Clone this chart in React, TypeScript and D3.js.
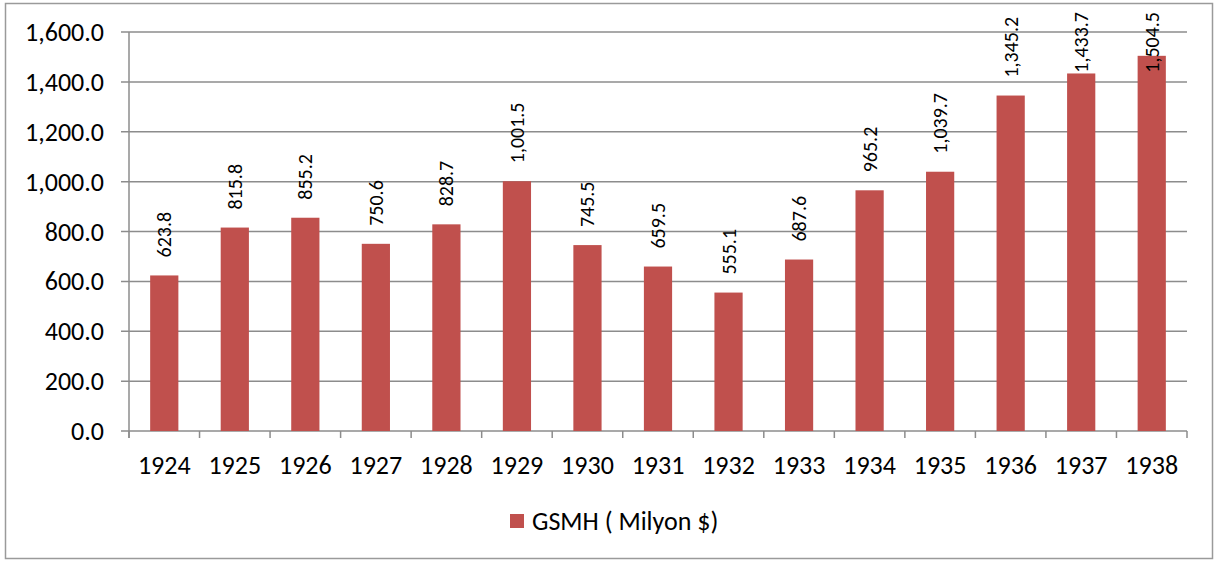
import React, { useEffect, useRef } from "react";
import * as d3 from "d3";

const years = ["1924","1925","1926","1927","1928","1929","1930","1931","1932","1933","1934","1935","1936","1937","1938"];
const gsmh = [623.8, 815.8, 855.2, 750.6, 828.7, 1001.5, 745.5, 659.5, 555.1, 687.6, 965.2, 1039.7, 1345.2, 1433.7, 1504.5];
const yTicks = [0, 200, 400, 600, 800, 1000, 1200, 1400, 1600];
const seriesName = "GSMH ( Milyon $)";

const W = 1216, H = 561;
const FONT = "Calibri, Carlito, Lato, 'Noto Sans', sans-serif";
const GRID = "#8c8c8c";
const BAR = "#C0504D";

export default function App() {
  const ref = useRef<SVGSVGElement | null>(null);
  useEffect(() => {
    document.body.style.margin = "0";
    const svg = d3.select(ref.current);
    svg.selectAll("*").remove();
    const left = 129, right = 1187, top = 32, bottom = 431;
    const x = d3.scaleBand<string>().domain(years).range([left, right]).paddingInner(0.6).paddingOuter(0.3);
    const xb = d3.scaleBand<string>().domain(years).range([left, right]);
    const y = d3.scaleLinear().domain([0, 1600]).range([bottom, top]);
    const fmt = d3.format(",.1f");

    svg.append("rect").attr("width", W).attr("height", H).attr("fill", "#fff");
    svg.append("rect").attr("x", 5.5).attr("y", 3.5).attr("width", 1207).attr("height", 555)
      .attr("fill", "none").attr("stroke", "#9a9a9a").attr("stroke-width", 1.5);

    // gridlines
    svg.append("g").selectAll("line").data(yTicks).join("line")
      .attr("x1", left - 8).attr("x2", right)
      .attr("y1", d => y(d)).attr("y2", d => y(d))
      .attr("stroke", GRID).attr("stroke-width", 1.5);
    // y labels
    svg.append("g").selectAll("text").data(yTicks).join("text")
      .attr("x", 104).attr("y", d => y(d)).attr("dy", "0.35em")
      .attr("text-anchor", "end").attr("font-family", FONT).attr("font-size", 26).attr("fill", "#000")
      .text(d => fmt(d));
    // y axis line
    svg.append("line").attr("x1", left).attr("x2", left).attr("y1", top).attr("y2", bottom + 7)
      .attr("stroke", GRID).attr("stroke-width", 1.5);
    // x ticks
    const bounds = years.map(yr => xb(yr)!).concat([right]);
    svg.append("g").selectAll("line").data(bounds).join("line")
      .attr("x1", d => d).attr("x2", d => d).attr("y1", bottom).attr("y2", bottom + 7)
      .attr("stroke", GRID).attr("stroke-width", 1.5);

    // bars
    svg.append("g").selectAll("rect").data(gsmh).join("rect")
      .attr("x", (d, i) => x(years[i])!).attr("width", x.bandwidth())
      .attr("y", d => y(d)).attr("height", d => bottom - y(d))
      .attr("fill", BAR);

    // x labels
    svg.append("g").selectAll("text").data(years).join("text")
      .attr("x", d => xb(d)! + xb.bandwidth() / 2).attr("y", 474)
      .attr("text-anchor", "middle").attr("font-family", FONT).attr("font-size", 26).attr("fill", "#000")
      .text(d => d);

    // value labels
    const lbl = svg.append("g").selectAll("text").data(gsmh).join("text")
      .attr("font-family", FONT).attr("font-size", 20).attr("fill", "#000")
      .attr("dy", "0.35em")
      .text(d => fmt(d));
    lbl.each(function (d, i) {
      const t = this as SVGTextElement;
      const len = t.getComputedTextLength();
      const cx = x(years[i])! + x.bandwidth() / 2;
      let startY = y(d) - 18;
      if (startY - len < 12) startY = 12 + len;
      d3.select(t).attr("transform", `translate(${cx},${startY}) rotate(-90)`);
    });

    // legend
    svg.append("rect").attr("x", 510).attr("y", 514).attr("width", 14).attr("height", 14).attr("fill", BAR);
    svg.append("text").attr("x", 532).attr("y", 530).attr("font-family", FONT).attr("font-size", 26)
      .attr("fill", "#000").text(seriesName);
  }, []);
  return <svg ref={ref} width={W} height={H} style={{ display: "block" }} />;
}
